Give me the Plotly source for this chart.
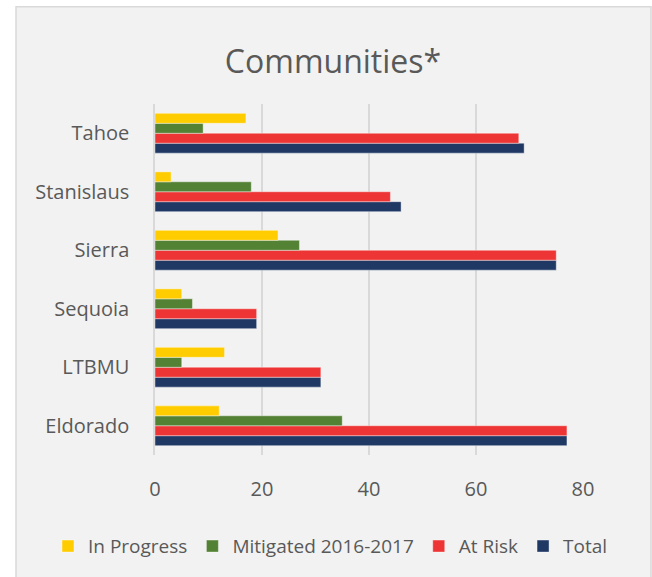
import plotly.graph_objects as go

categories = ["Eldorado", "LTBMU", "Sequoia", "Sierra", "Stanislaus", "Tahoe"]
in_progress = [12, 13, 5, 23, 3, 17]
mitigated = [35, 5, 7, 27, 18, 9]
at_risk = [77, 31, 19, 75, 44, 68]
total = [77, 31, 19, 75, 46, 69]
x_ticks = [0, 20, 40, 60, 80]

W, H = 652, 577
L, R, T, B = 155, 69, 104, 119
pw, ph = W - L - R, H - T - B

FONT = "Open Sans"
GREY = "#595959"

fig = go.Figure()
series = [
    ("Total", total, "#1F3864"),
    ("At Risk", at_risk, "#EE3535"),
    ("Mitigated 2016-2017", mitigated, "#548235"),
    ("In Progress", in_progress, "#FFCC00"),
]
for name, vals, col in series:
    fig.add_trace(go.Bar(
        y=categories, x=vals, name=name, orientation="h",
        marker=dict(color=col, line=dict(color="rgba(255,255,255,0.5)", width=0.8)),
    ))

def px_to_paper_x(px):
    return (px - L) / pw

def px_to_paper_y(py):
    return (H - B - py) / ph

fig.add_shape(type="rect", xref="paper", yref="paper",
              x0=px_to_paper_x(16), x1=px_to_paper_x(651),
              y0=px_to_paper_y(600), y1=px_to_paper_y(6),
              fillcolor="#f2f2f2", line=dict(color="#d9d9d9", width=1.5),
              layer="below")

fig.update_layout(
    width=W, height=H,
    margin=dict(l=L, r=R, t=T, b=B, pad=0),
    paper_bgcolor="white", plot_bgcolor="rgba(0,0,0,0)",
    barmode="group", bargap=0.32, bargroupgap=0,
    font=dict(family=FONT, color=GREY),
    title=dict(text="Communities*", x=333 / W, xanchor="center",
               y=1 - 62 / H, yanchor="middle", yref="container",
               font=dict(size=32, color=GREY, family=FONT)),
    showlegend=True,
    legend=dict(orientation="h", traceorder="reversed",
                xref="paper", yref="paper",
                x=px_to_paper_x(48), xanchor="left",
                y=px_to_paper_y(550), yanchor="middle",
                font=dict(size=19, color=GREY, family=FONT),
                itemwidth=30, bgcolor="rgba(0,0,0,0)"),
    xaxis=dict(range=[0, 80], tickvals=x_ticks, showgrid=True, gridcolor="#d9d9d9",
               gridwidth=1.5, zeroline=False, showline=False,
               tickfont=dict(size=20, color=GREY), ticks="", ticklabelstandoff=20),
    yaxis=dict(categoryorder="array", categoryarray=categories, showgrid=False,
               showline=True, linecolor="#d9d9d9", linewidth=1.5,
               tickfont=dict(size=20, color=GREY), ticks="", ticklabelstandoff=20),
)

fig.write_html("out.html", config={"displayModeBar": False},
               post_script="document.body.style.margin='0';document.body.style.overflow='hidden';")
